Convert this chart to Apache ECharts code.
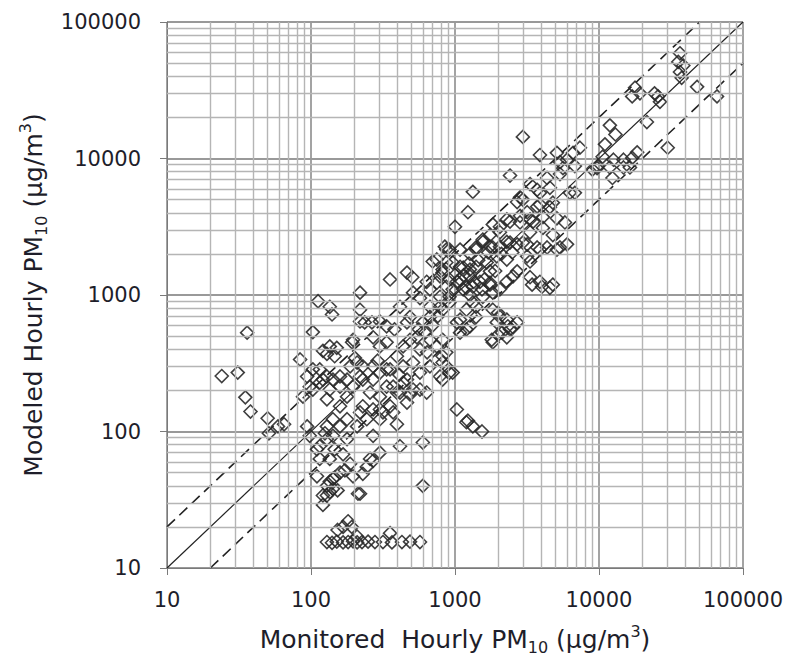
<!DOCTYPE html>
<html>
<head>
<meta charset="utf-8">
<script src="https://cdn.jsdelivr.net/npm/echarts@6/dist/echarts.min.js"></script>
<style>
  html, body { margin: 0; padding: 0; background: #fff; }
  #chart { width: 793px; height: 660px; }
</style>
</head>
<body>
<div id="chart"></div>
<script>
// ---- Data: [monitored hourly PM10, modeled hourly PM10] in µg/m3 ----
const pointsLowerLeft = [
  [24,255],[31,270],[36,530],[35,178],[38,140],[50,125],[51,97],[65,113],[59,109],[84,337],
  [88,180],[94,109],[94,253],[98,213],[98,93],[103,285],[103,203],[103,535],[112,900],[135,820],[140,720]
];
const pointsLeftCluster = [
  [121,390],[151,410],[193,450],[202,345],[265,630],[236,630],[219,1040],[219,780],[354,1300],[464,1460],
  [505,1350],[219,640],[301,640],[335,590],[196,470],[135,420],[129,370],[146,356],[270,490],[301,420],
  [335,450],[209,320],[229,300],[187,300],[219,253],[270,300],[335,285],[395,356],[436,420],[487,470],
  [544,490],[598,630],[670,690],[487,690],[415,820],[511,1040],[571,950],[670,1100],[748,1230],[820,1460],
  [870,1730],[748,1820],[870,2150],[670,820],[787,820],[916,970],[464,630],[571,400],[670,470],[748,420],
  [820,356],[870,300],[820,240],[636,193],[511,203],[436,228],[395,193],[464,163],[335,213],[301,180],
  [257,193],[196,213],[159,213],[178,180],[229,153],[270,145],[316,138],[159,153],[135,203],[121,240],
  [129,172],[115,285],[380,560],[560,560],[620,530],[700,600],[760,700],[640,380],[410,260],[290,330]
];
const pointsLowCluster = [
  [395,113],[598,83],[598,40],[219,35],[270,93],[415,78],[301,70],[270,61],[229,49],[187,58],
  [196,47],[159,50],[142,45],[129,40],[121,34],[135,36],[121,29],[110,47],[115,63],[110,74],
  [142,93],[129,88],[159,109],[178,88],[209,109],[244,123],[301,123],[372,138],[354,153],[301,145],
  [219,138],[178,123],[142,123],[129,109],[787,253],[571,203],[487,187],[415,193],[372,213],[464,240],
  [571,270],[670,300],[511,320],[436,300],[354,285],[301,270],[270,240],[229,240],[178,240],[159,253],
  [142,240],[129,253],[115,228],[257,63],[244,55],[172,52],[146,46],[135,43],[142,38],[153,37],
  [129,34],[212,35],[115,78],[125,97],[146,74],[167,68],[135,63]
];
const pointsFloor = [
  [129,15.5],[140,15.3],[151,15.6],[167,15.4],[181,15.5],[196,15.7],[209,15.4],[226,15.5],[249,15.6],[278,15.5],
  [316,15.5],[365,15.4],[428,15.5],[487,15.6],[571,15.5],[181,22],[167,20],[192,20],[209,17],[354,18],[153,19]
];
const pointsCenter = [
  [2960,14400],[2410,7500],[1330,5700],[1230,4040],[1000,3160],[3890,10600],[5100,11000],[5360,9400],[5620,8500],[7370,12000],
  [12400,7200],[6800,5600],[9700,8500],[14800,8600],[17000,10100],[18400,11100],[30000,12000],[21500,18500],[3320,6500],[3720,5900],
  [2830,5200],[4360,7200],[4560,6100],[3170,4040],[3890,4600],[4560,4400],[5100,3650],[3490,3450],[4080,3100],[2700,4800],
  [2830,3800],[2410,3450],[1830,3290],[1750,2750],[2050,2880],[1560,2450],[1400,2230],[1830,2230],[2290,2450],[2700,2350],
  [3320,2880],[3170,2350],[3720,2230],[4360,2230],[5360,2230],[6000,2350],[4780,2750],[3320,1760],[2700,1490],[2290,1250],
  [3320,1350],[3890,1250],[4780,1190],[1750,1490],[1270,2000],[1140,1590],[1030,1250],[1490,1250],[1200,1130],
  [1150,1400],[1450,1800],[1900,1500],[2100,2000],[1350,1250],[1000,1400],[1600,1300],[2500,2050],[1700,2050],[1250,1700]
];
const pointsCenterLow = [
  [4560,1130],[4020,1150],[3430,1190],[2050,1100],[1750,1190],[1540,1100],[1270,1000],[1400,820],[1990,740],[2330,590],
  [2530,580],[1800,470],[2120,530],[1200,560],[1030,630],[963,270],[1030,145],[1230,120],[1540,100],[5360,7700],
  [6280,5600],[3890,5600],[2960,5000],[3720,4440],[4780,4750],[4080,3720],[3320,3580],[2830,3400],[2290,3580],[2050,3160],
  [1560,2550],[1400,2150],[1084,2150],[916,2150],[1750,2260],[2050,2260],[2410,2420],[2960,2420],[3890,2150],[5100,2150],
  [3170,1920],[2530,1370],[2290,1820],[1950,1920],[1660,1730],[1400,1610],[1270,1535],[1084,1610],[963,1730],[820,1535],
  [787,1370],[916,1300],[1084,1300],[1270,1370],[1750,1230],[1330,1150],[1140,1100],[963,1100],[870,1150],[1560,970],
  [1830,1040],[1330,880],[1200,780],[1400,690],[1084,660],[1270,590],[1830,780],[2050,690],[1950,630],[2290,660],
  [2700,630],[820,780],[916,880],[787,970],[850,2260],[700,1760],[636,1250],[1084,530],[1830,450],[1990,510],
  [2410,560],[2290,490],[820,470],[870,380],[820,320],[916,270],[1200,117],[1330,109]
];
const pointsUpper = [
  [36500,59000],[35500,51000],[38500,48000],[36500,43000],[37500,39000],[48000,33500],[66000,28500],[17800,33000],[19250,30000],[17000,28500],
  [24300,30000],[26500,26000],[25700,28500],[11900,17500],[13000,15000],[11000,12700],[16400,8600],[14800,9800],[12600,9800],[11900,8600],
  [10600,10300],[9800,8800],[9000,8300],[6600,11000],[6000,9800],[6800,8800],[5800,3400]
];
// Reference lines: 1:1, factor-of-two above and below
const lineOneToOne = [[10,10],[100000,100000]];
const lineTwiceAbove = [[10,20],[50000,100000]];
const lineHalfBelow = [[20,10],[100000,50000]];
// Axis
const axisMin = 10, axisMax = 100000;
const minorMultipliers = [2,3,4,5,6,7,8,9];

const minorGrid = [];
for (let d = axisMin; d < axisMax; d *= 10) {
  minorMultipliers.forEach(m => minorGrid.push(m * d));
}

const FONT = 'DejaVu Sans, Liberation Sans, Arial, sans-serif';
const TXT = '#1e1e2a';
const allPoints = [].concat(pointsLowerLeft, pointsLeftCluster, pointsLowCluster, pointsFloor,
  pointsCenter, pointsCenterLow, pointsUpper);

const rich = {
  sub: { fontSize: 16, fontFamily: FONT, color: TXT, verticalAlign: 'bottom', lineHeight: 18 },
  sup: { fontSize: 16, fontFamily: FONT, color: TXT, verticalAlign: 'top', lineHeight: 18 }
};

function axisCommon(name, gap, isY) {
  return {
    type: 'log', logBase: 10, min: axisMin, max: axisMax,
    name: name, nameLocation: 'middle', nameGap: gap, nameRotate: isY ? 90 : 0,
    nameTextStyle: { fontSize: 25, fontFamily: FONT, color: TXT, lineHeight: 32, rich: rich },
    axisLine: { show: true, lineStyle: { color: '#7a7a7a', width: 1 } },
    axisTick: { show: true, inside: false, length: 7, lineStyle: { color: '#7a7a7a' } },
    axisLabel: { fontSize: 21, fontFamily: FONT, color: TXT, margin: isY ? 26 : 21,
      formatter: v => String(Math.round(v)) },
    splitLine: { show: true, lineStyle: { color: '#999', width: 1.8 } },
    minorTick: { show: false }
  };
}

const chart = echarts.init(document.getElementById('chart'), null, { renderer: 'svg' });
chart.setOption({
  animation: false,
  backgroundColor: '#fff',
  grid: { left: 167, right: 50, top: 22, bottom: 91, containLabel: false },
  xAxis: axisCommon('Monitored  Hourly PM{sub|10} (µg/m{sup|3})', 55, false),
  yAxis: axisCommon('Modeled Hourly PM{sub|10} (µg/m{sup|3})', 104, true),
  series: [
    {
      name: 'minor grid', type: 'scatter', data: [], silent: true, z: 0,
      markLine: {
        silent: true, symbol: ['none', 'none'], animation: false,
        label: { show: false },
        lineStyle: { type: 'solid', color: '#b5b5b5', width: 1.4 },
        data: minorGrid.map(v => ({ xAxis: v })).concat(minorGrid.map(v => ({ yAxis: v })))
      }
    },
    { name: '1:1', type: 'line', data: lineOneToOne, showSymbol: false, silent: true, z: 1,
      lineStyle: { color: '#222', width: 1.2, type: 'solid' } },
    { name: '2:1', type: 'line', data: lineTwiceAbove, showSymbol: false, silent: true, z: 1,
      lineStyle: { color: '#222', width: 1.6, type: [11, 6] } },
    { name: '1:2', type: 'line', data: lineHalfBelow, showSymbol: false, silent: true, z: 1,
      lineStyle: { color: '#222', width: 1.6, type: [11, 6] } },
    {
      name: 'Hourly PM10', type: 'scatter', data: allPoints, z: 3,
      symbol: 'diamond', symbolSize: 13,
      itemStyle: { color: 'rgba(255,255,255,0)', borderColor: '#2a2a2a', borderWidth: 1.6, opacity: 0.9 },
      emphasis: { disabled: true }
    }
  ]
});
</script>
</body>
</html>
